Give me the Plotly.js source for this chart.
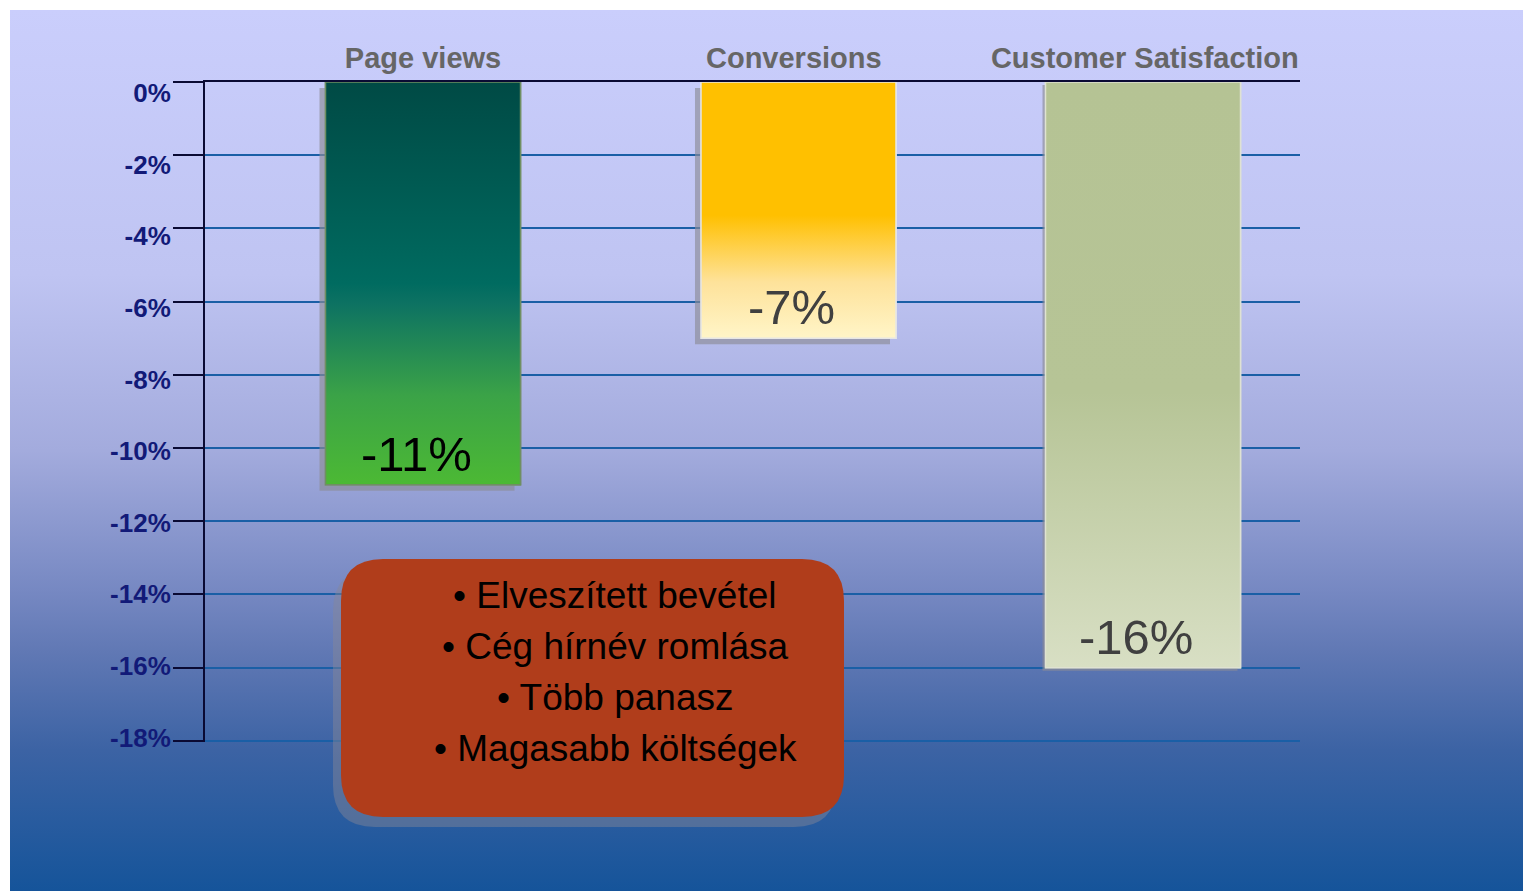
<!DOCTYPE html>
<html>
<head>
<meta charset="utf-8">
<script src="https://cdn.plot.ly/plotly-3.0.1.min.js"></script>
<style>
  html, body { margin: 0; padding: 0; background: #ffffff; width: 1523px; height: 891px; overflow: hidden; }
  #bg { position: absolute; left: 10px; top: 10px; right: 0; bottom: 0;
        background: linear-gradient(to bottom, #cacefc 0%, #bfc4f2 30%, #a3abdd 50%, #7688c2 66%, #6078b4 73%, #3c63a4 84%, #15549a 100%); }
  #chart { position: absolute; left: 0; top: 0; width: 1523px; height: 891px; }
</style>
</head>
<body>
<div id="bg"></div>
<div id="chart"></div>
<script>
// ---- data ----
const categories = ['Page views', 'Conversions', 'Customer Satisfaction'];
const values = [-11, -7, -16];
const valueLabels = ['-11%', '-7%', '-16%'];
const yTickValues = [0, -2, -4, -6, -8, -10, -12, -14, -16, -18];
const yTickLabels = ['0%', '-2%', '-4%', '-6%', '-8%', '-10%', '-12%', '-14%', '-16%', '-18%'];
const bulletItems = ['• Elveszített bevétel', '• Cég hírnév romlása', '• Több panasz', '• Magasabb költségek'];

// ---- styles ----
const PL = 205, PR = 1300, PT = 82, PB = 742;       // plot area in px
const X_RANGE = [-0.6056, 2.4361];
const Y_RANGE = [-18.03, 0];
const pxPerX = (PR - PL) / (X_RANGE[1] - X_RANGE[0]);
const pxPerY = (PB - PT) / (Y_RANGE[1] - Y_RANGE[0]);
const halfW = 97.5 / pxPerX;
const barShift = [0, 0.043, 0];
const labelShift = [0, 0.03, 0.005];
const shadowPx = [6, 6, 3];
const barMid = ['#006b60', '#ffc000', '#b5c394'];
const barEdge = ['#6f8f62', '#e6e6e6', '#dfe2d2'];
const barScales = [
  [[0, '#4cb934'], [0.22, '#3ba347'], [0.45, '#0d7262'], [0.5, '#006b60'], [0.75, '#005a52'], [1, '#004a45']],
  [[0, '#fff5c8'], [0.22, '#fee29a'], [0.48, '#ffc000'], [1, '#ffc000']],
  [[0, '#d8dfc4'], [0.47, '#b6c496'], [1, '#b5c394']]
];
const labelColors = ['#000000', '#404040', '#404040'];

const catPos = categories.map((c, i) => i);
const traces = [];
// base bars
traces.push({
  type: 'bar', x: catPos, y: values, text: categories, textposition: 'none',
  width: 2 * halfW, offset: barShift.map(s => s - halfW),
  marker: { color: barMid, line: { color: barEdge, width: 1.5 } },
  hoverinfo: 'skip', showlegend: false
});
// shadows
values.forEach((v, i) => {
  const xc = catPos[i] + barShift[i];
  const dx = shadowPx[i] / pxPerX, dy = shadowPx[i] / pxPerY;
  traces.push({
    type: 'scatter', mode: 'lines',
    x: [xc - halfW - dx, xc + halfW - dx, xc + halfW - dx, xc - halfW - dx, xc - halfW - dx],
    y: [-dy, -dy, v - dy, v - dy, -dy],
    fill: 'toself', fillcolor: 'rgba(140,140,150,0.65)', line: { width: 0 },
    hoverinfo: 'skip', showlegend: false
  });
});
// gradient bars
values.forEach((v, i) => {
  const xc = catPos[i] + barShift[i];
  traces.push({
    type: 'scatter', mode: 'lines',
    x: [xc - halfW, xc + halfW, xc + halfW, xc - halfW, xc - halfW],
    y: [0, 0, v, v, 0],
    fill: 'toself',
    fillgradient: { type: 'vertical', colorscale: barScales[i] },
    line: { color: barEdge[i], width: 1.5 },
    hoverinfo: 'skip', showlegend: false
  });
});
// helper trace for label axis
traces.push({ type: 'scatter', mode: 'markers', x: catPos, y: values, yaxis: 'y2',
  marker: { opacity: 0 }, hoverinfo: 'skip', showlegend: false });

// ---- annotation box ----
const X = px => (px - PL) / (PR - PL);
const Y = py => (PB - py) / (PB - PT);
function roundRect(x0, y0, x1, y1, r) {
  return `M${X(x0 + r)},${Y(y0)} L${X(x1 - r)},${Y(y0)} Q${X(x1)},${Y(y0)} ${X(x1)},${Y(y0 + r)} ` +
         `L${X(x1)},${Y(y1 - r)} Q${X(x1)},${Y(y1)} ${X(x1 - r)},${Y(y1)} L${X(x0 + r)},${Y(y1)} ` +
         `Q${X(x0)},${Y(y1)} ${X(x0)},${Y(y1 - r)} L${X(x0)},${Y(y0 + r)} Q${X(x0)},${Y(y0)} ${X(x0 + r)},${Y(y0)} Z`;
}
const shapes = [
  { type: 'path', xref: 'paper', yref: 'paper', path: roundRect(333, 569, 836, 827, 42),
    fillcolor: 'rgba(135,135,150,0.45)', line: { width: 0 }, layer: 'above' },
  { type: 'path', xref: 'paper', yref: 'paper', path: roundRect(341, 559, 844, 817, 42),
    fillcolor: '#b03d1b', line: { width: 0 }, layer: 'above' }
];

const annotations = [];
values.forEach((v, i) => {
  annotations.push({
    x: catPos[i] + barShift[i], y: v, xref: 'x', yref: 'y', text: valueLabels[i], showarrow: false,
    yanchor: 'bottom', xanchor: 'center', xshift: -7, yshift: 2,
    font: { family: 'Liberation Sans, Arial, sans-serif', size: 49, color: labelColors[i] }
  });
});
bulletItems.forEach((t, i) => {
  annotations.push({
    x: X(615), y: Y(595 + 51 * i), xref: 'paper', yref: 'paper', text: t, showarrow: false,
    xanchor: 'center', yanchor: 'middle',
    font: { family: 'Liberation Sans, Arial, sans-serif', size: 37, color: '#000000' }
  });
});

const layout = {
  width: 1523, height: 891,
  margin: { l: PL, r: 1523 - PR, t: PT, b: 891 - PB, pad: 0 },
  paper_bgcolor: 'rgba(0,0,0,0)', plot_bgcolor: 'rgba(0,0,0,0)',
  showlegend: false, barmode: 'overlay',
  xaxis: {
    type: 'linear', range: X_RANGE, side: 'top', fixedrange: true,
    tickvals: catPos.map((p, i) => p + labelShift[i]), ticktext: categories,
    showline: true, linecolor: '#0a0a33', linewidth: 2, ticks: '', showgrid: false, zeroline: false,
    tickfont: { family: 'Liberation Sans, Arial, sans-serif', size: 29, color: '#666666', weight: 'bold' }
  },
  yaxis: {
    range: Y_RANGE, tickvals: yTickValues, showticklabels: false, fixedrange: true,
    ticks: 'outside', ticklen: 30, tickwidth: 2, tickcolor: '#0a0a33',
    showline: true, linecolor: '#0a0a33', linewidth: 2,
    showgrid: true, gridcolor: '#1a5fa6', gridwidth: 2, zeroline: false
  },
  yaxis2: {
    overlaying: 'y', side: 'left', anchor: 'x', range: [-18.128, 0.307], fixedrange: true,
    tickvals: yTickValues, ticktext: yTickLabels,
    ticks: 'outside', ticklen: 28, tickcolor: 'rgba(0,0,0,0)',
    showline: false, showgrid: false, zeroline: false,
    tickfont: { family: 'Liberation Sans, Arial, sans-serif', size: 26, color: '#121a78', weight: 'bold' }
  },
  shapes: shapes,
  annotations: annotations
};

Plotly.newPlot('chart', traces, layout, { staticPlot: true, displayModeBar: false });
</script>
</body>
</html>
